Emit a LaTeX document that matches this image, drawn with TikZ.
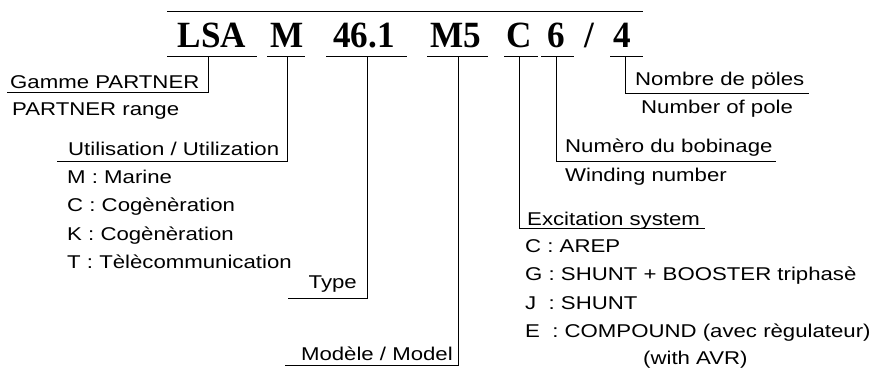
\documentclass[tikz,border=0pt]{standalone}
\usepackage{fontspec}
\newfontfamily\labfont{Liberation Sans}[FakeStretch=1.2]
\newfontfamily\codefont{Liberation Serif}[FakeStretch=0.95]
\begin{document}
\begin{tikzpicture}[x=1pt,y=-1pt,
  lab/.style={inner sep=0pt,font=\labfont\fontsize{18.5}{20}\selectfont},
  code/.style={inner sep=0pt,anchor=base,font=\codefont\bfseries\fontsize{37}{40}\selectfont},
  ln/.style={line width=1pt,line cap=rect}]
\useasboundingbox (0,0) rectangle (875,367);
% top rule
\coordinate (t1) at (167,11); \coordinate (t2) at (642,11);
\draw[ln] (t1) -- (t2);
% code tokens
\node[code] (lsa) at (212,47) {LSA};
\node[code] (m) at (287,47) {M};
\node[code] (num) at (364,47) {46.1};
\node[code] (m5) at (456,47) {M5};
\node[code] (c) at (519,47) {C};
\node[code] (six) at (556,47) {6};
\node[code] (sl) at (589,47) {/};
\node[code] (four) at (622,47) {4};
% underlines under tokens
\coordinate (u1a) at (167,56); \coordinate (u1b) at (256,56);
\coordinate (u2a) at (267,56); \coordinate (u2b) at (304,56);
\coordinate (u3a) at (326,56); \coordinate (u3b) at (406,56);
\coordinate (u4a) at (427,56); \coordinate (u4b) at (487,56);
\coordinate (u5a) at (504,56); \coordinate (u5b) at (537,56);
\coordinate (u6a) at (541,56); \coordinate (u6b) at (573,56);
\coordinate (u7a) at (610,56); \coordinate (u7b) at (642,56);
\foreach \i in {1,...,7} {\draw[ln] (u\i a) -- (u\i b);}
% label texts
\node[lab,anchor=base west] (gam) at (10,88) {Gamme PARTNER};
\node[lab,anchor=base west] (gamen) at (12,115) {PARTNER range};
\node[lab,anchor=base west] (uti) at (68,155) {Utilisation / Utilization};
\node[lab,anchor=base west] (um) at (67,183) {M : Marine};
\node[lab,anchor=base west] (uc) at (67,211.5) {C : Cogènèration};
\node[lab,anchor=base west] (uk) at (67,240) {K : Cogènèration};
\node[lab,anchor=base west] (ut) at (67,268) {T : Tèlècommunication};
\node[lab,anchor=base east] (typ) at (357,288) {Type};
\node[lab,anchor=base east] (mod) at (453,360) {Modèle / Model};
\node[lab,anchor=base west] (exc) at (527,225) {Excitation system};
\node[lab,anchor=base west] (ec) at (525,252) {C : AREP};
\node[lab,anchor=base west] (eg) at (525,280.5) {G : SHUNT + BOOSTER triphasè};
\node[lab,anchor=base west] (ej) at (525,309) {J \ : SHUNT};
\node[lab,anchor=base west] (ee) at (525,337) {E \ : COMPOUND (avec règulateur)};
\node[lab,anchor=base west] (eavr) at (643,364.5) {(with AVR)};
\node[lab,anchor=base west] (bob) at (565,152) {Numèro du bobinage};
\node[lab,anchor=base west] (win) at (565,181) {Winding number};
\node[lab,anchor=base west] (pol) at (635,85) {Nombre de pöles};
\node[lab,anchor=base west] (pole) at (641,113) {Number of pole};
% connector corners
\coordinate (k1) at (208,56); \coordinate (c1) at (208,92); \coordinate (e1) at (7,92);
\coordinate (k2) at (287,56); \coordinate (c2) at (287,161); \coordinate (e2) at (57,161);
\coordinate (k3) at (367,56); \coordinate (c3) at (367,298); \coordinate (e3) at (288,298);
\coordinate (k4) at (458,56); \coordinate (c4) at (458,365); \coordinate (e4) at (285,365);
\coordinate (k5) at (519,56); \coordinate (c5) at (519,228); \coordinate (e5) at (704,228);
\coordinate (k6) at (556,56); \coordinate (c6) at (556,161); \coordinate (e6) at (775,161);
\coordinate (k7) at (625,56); \coordinate (c7) at (625,93); \coordinate (e7) at (808,93);
\foreach \i in {1,...,7} {\draw[ln] (k\i) -- (c\i) -- (e\i);}
\end{tikzpicture}
\end{document}
